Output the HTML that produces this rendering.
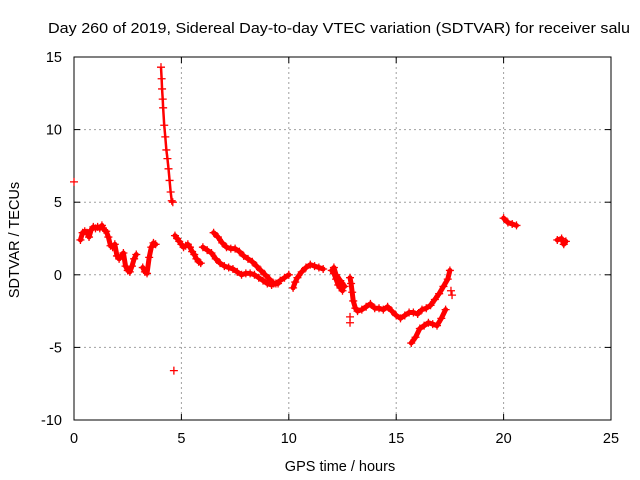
<!DOCTYPE html>
<html><head><meta charset="utf-8"><style>
body{margin:0;background:#fff;}
svg{display:block;font-family:"Liberation Sans",sans-serif;}
</style></head><body>
<svg id="chart" width="640" height="480" viewBox="0 0 640 480">
<rect width="640" height="480" fill="#fff"/>
<text x="339" y="33" font-size="15" text-anchor="middle" textLength="582" lengthAdjust="spacingAndGlyphs" fill="#000">Day 260 of 2019, Sidereal Day-to-day VTEC variation (SDTVAR) for receiver salu</text>
<g id="grid"></g>
<g id="axes"></g>
<g id="marks"></g>
<text x="340" y="471" font-size="14.5" text-anchor="middle">GPS time / hours</text>
<text transform="translate(19,240) rotate(-90)" font-size="14.5" text-anchor="middle">SDTVAR / TECUs</text>
</svg>
<script>
const xTicks=[0,5,10,15,20,25];
const yTicks=[-10,-5,0,5,10,15];
// segments: arrays of [hour, value]
const segA=[[0.0,6.4]];
const segB=[[0.3,2.4],[0.4,2.9],[0.5,3.0],[0.6,2.9],[0.7,2.6],[0.8,3.1],[0.9,3.3],[1.0,3.2],[1.1,3.3],[1.2,3.2],[1.3,3.4],[1.4,3.1],[1.5,3.0],[1.6,2.6],[1.7,2.0],[1.8,1.9],[1.9,2.1],[2.0,1.3],[2.1,1.1],[2.2,1.3],[2.3,1.5],[2.4,0.6],[2.5,0.3],[2.6,0.2],[2.7,0.6],[2.8,1.1],[2.9,1.4]];
const segC=[[3.2,0.5],[3.3,0.2],[3.4,0.1],[3.5,1.2],[3.6,1.9],[3.7,2.2],[3.8,2.1]];
const segSpike=[[4.05,14.3],[4.08,13.5],[4.1,12.8],[4.13,12.1],[4.15,11.5],[4.2,10.3],[4.25,9.5],[4.3,8.6],[4.35,8.0],[4.4,7.3],[4.45,6.5],[4.5,5.7],[4.55,5.1],[4.6,5.0]];
const segOut=[[4.65,-6.6]];
const segD=[[4.7,2.7],[4.8,2.5],[4.9,2.3],[5.0,2.1],[5.1,1.9],[5.2,2.0],[5.3,2.1],[5.4,1.9],[5.5,1.6],[5.6,1.4],[5.7,1.1],[5.8,0.9],[5.9,0.8]];
const segLow=[[6.0,1.9],[6.2,1.7],[6.4,1.5],[6.6,1.1],[6.8,0.8],[7.0,0.6],[7.2,0.5],[7.4,0.4],[7.6,0.2],[7.8,0.0],[8.0,0.1],[8.2,0.1],[8.4,0.0],[8.6,-0.2],[8.8,-0.4],[9.0,-0.6],[9.2,-0.7],[9.4,-0.6],[9.6,-0.4],[9.8,-0.2],[10.0,0.0]];
const segUp=[[6.5,2.9],[6.7,2.6],[6.9,2.2],[7.1,1.9],[7.3,1.8],[7.5,1.8],[7.7,1.6],[7.9,1.3],[8.1,1.1],[8.3,0.9],[8.5,0.6],[8.7,0.3],[8.9,0.0],[9.1,-0.3],[9.3,-0.6],[9.5,-0.6]];
const segE=[[10.2,-0.9],[10.3,-0.5],[10.4,-0.2],[10.6,0.2],[10.8,0.5],[11.0,0.7],[11.2,0.6],[11.4,0.5],[11.6,0.4]];
const segF=[[12.0,0.3],[12.1,0.1],[12.2,-0.3],[12.3,-0.7],[12.4,-0.9],[12.5,-1.1]];
const segF2=[[12.1,0.5],[12.2,0.0],[12.4,-0.4],[12.6,-0.8]];
const segG=[[12.85,-0.2],[12.9,-0.6],[12.95,-1.2],[13.0,-1.8],[13.1,-2.3],[13.2,-2.5],[13.4,-2.4],[13.6,-2.2],[13.8,-2.0],[14.0,-2.3],[14.2,-2.3],[14.4,-2.4],[14.6,-2.2],[14.8,-2.5],[15.0,-2.8],[15.2,-3.0],[15.4,-2.8],[15.6,-2.6],[15.8,-2.6],[16.0,-2.7],[16.2,-2.4],[16.4,-2.3],[16.6,-2.1],[16.8,-1.7],[17.0,-1.3],[17.2,-0.8],[17.4,-0.3],[17.5,0.3]];
const segG2=[[12.85,-3.3],[12.85,-2.9],[17.6,-1.4],[17.55,-1.1]];
const segH=[[15.7,-4.7],[15.9,-4.3],[16.1,-3.7],[16.3,-3.5],[16.5,-3.3],[16.7,-3.4],[16.9,-3.5],[17.1,-3.0],[17.3,-2.4]];
const segI=[[20.0,3.9],[20.2,3.6],[20.4,3.5],[20.6,3.4]];
const segJ=[[22.5,2.4],[22.7,2.5],[22.8,2.1],[22.9,2.3]];
const lineSegs=[segB,segC,segD,segLow,segUp,segE,segF,segF2,segG,segH,segI,segJ];
const pointSegs=[segA,segB,segC,segSpike,segOut,segD,segLow,segUp,segE,segF,segF2,segG,segG2,segH,segI,segJ];

const X0=74,X1=611,Y0=420,Y1=57;
const xs=h=>X0+(h-0)/(25-0)*(X1-X0);
const ys=v=>Y0-(v+10)/(25)*(Y0-Y1);
const NS="http://www.w3.org/2000/svg";
function mk(tag,attrs,parent){const e=document.createElementNS(NS,tag);for(const k in attrs)e.setAttribute(k,attrs[k]);parent.appendChild(e);return e;}
const grid=document.getElementById('grid'),axes=document.getElementById('axes'),marks=document.getElementById('marks');
xTicks.forEach(t=>{
  const x=xs(t);
  if(t>0&&t<25){const g=mk('line',{x1:x,x2:x,y1:Y1,y2:Y0,stroke:'#a0a0a0','stroke-dasharray':'2,3'},grid);
  
  }
  mk('line',{x1:x,x2:x,y1:Y0,y2:Y0-6,stroke:'#000'},axes);
  mk('line',{x1:x,x2:x,y1:Y1,y2:Y1+6,stroke:'#000'},axes);
  const l=mk('text',{x:x,y:443,'font-size':'14.5','text-anchor':'middle'},axes);l.textContent=t;
  
  
});
yTicks.forEach(t=>{
  const y=ys(t);
  if(t>-10&&t<15){const g=mk('line',{x1:X0,x2:X1,y1:y,y2:y,stroke:'#a0a0a0','stroke-dasharray':'2,3'},grid);
  
  }
  mk('line',{x1:X0,x2:X0+6,y1:y,y2:y,stroke:'#000'},axes);
  mk('line',{x1:X1,x2:X1-6,y1:y,y2:y,stroke:'#000'},axes);
  const l=mk('text',{x:62,y:y+5,'font-size':'14.5','text-anchor':'end'},axes);l.textContent=t;
  
  
});
const frame=mk('rect',{x:X0,y:Y1,width:X1-X0,height:Y0-Y1,fill:'none',stroke:'#000'},axes);


lineSegs.forEach(s=>{
  if(s.length<2)return;
  const p=mk('polyline',{points:s.map(d=>xs(d[0])+','+ys(d[1])).join(' '),fill:'none',stroke:'#f00','stroke-width':'5','stroke-linejoin':'round','stroke-linecap':'round'},marks);
  
  
});
const sp=mk('polyline',{points:segSpike.map(d=>xs(d[0])+','+ys(d[1])).join(' '),fill:'none',stroke:'#f00','stroke-width':'2.5'},marks);


pointSegs.forEach(s=>s.forEach(d=>{
  const x=xs(d[0]),y=ys(d[1]);
  const m=mk('path',{d:`M${x-4},${y}h8M${x},${y-4}v8`,stroke:'#f00','stroke-width':'1.3'},marks);
  
  
}));
</script>
</body></html>
